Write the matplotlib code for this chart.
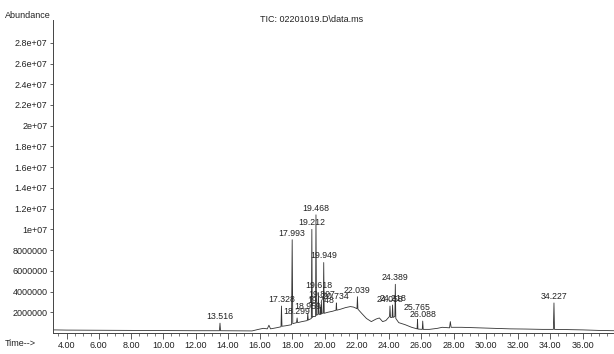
import matplotlib
matplotlib.use("Agg")
import matplotlib.pyplot as plt
from matplotlib.ticker import FixedLocator, FixedFormatter, MultipleLocator

plt.rcParams['font.family'] = ['Liberation Sans', 'DejaVu Sans']

# Chromatogram trace vertices (time in min, abundance)
trace_time = [3.2, 4.0, 8.0, 12.0, 13.48, 13.516, 13.55, 15.5, 15.9, 16.2, 16.45, 16.55, 16.65,
              17.0, 17.3, 17.328, 17.36, 17.6, 17.95, 17.993, 18.03, 18.26, 18.299, 18.33,
              18.6, 18.93, 18.959, 18.99, 19.18, 19.212, 19.24, 19.3, 19.44, 19.468, 19.5,
              19.59, 19.618, 19.65, 19.72, 19.748, 19.775, 19.807, 19.84, 19.92, 19.949, 19.98,
              20.2, 20.5, 20.71, 20.734, 20.76, 21.0, 21.3, 21.6, 21.8, 22.01, 22.039, 22.07,
              22.3, 22.6, 22.9, 23.2, 23.4, 23.6, 23.8, 24.03, 24.058, 24.09, 24.19, 24.218,
              24.25, 24.36, 24.389, 24.42, 24.6, 25.0, 25.4, 25.74, 25.765, 25.79, 26.06,
              26.088, 26.12, 26.5, 27.0, 27.3, 27.75, 27.8, 27.85, 28.5, 29.5, 30.5, 31.5,
              32.5, 33.5, 34.19, 34.227, 34.26, 35.0, 36.0, 37.0, 37.95]
trace_abund = [0.30e6, 0.28e6, 0.25e6, 0.22e6, 0.22e6, 0.95e6, 0.22e6, 0.20e6, 0.35e6, 0.45e6,
               0.40e6, 0.75e6, 0.40e6, 0.50e6, 0.60e6, 2.6e6, 0.65e6, 0.70e6, 0.80e6, 9.0e6,
               0.90e6, 1.0e6, 1.45e6, 1.0e6, 1.1e6, 1.2e6, 1.9e6, 1.25e6, 1.4e6, 10.0e6, 1.5e6,
               1.6e6, 1.6e6, 11.4e6, 1.7e6, 1.8e6, 3.9e6, 1.8e6, 1.8e6, 2.5e6, 1.8e6, 2.9e6,
               1.9e6, 1.9e6, 6.8e6, 1.9e6, 2.0e6, 2.1e6, 2.2e6, 2.9e6, 2.2e6, 2.3e6, 2.45e6,
               2.55e6, 2.5e6, 2.35e6, 3.5e6, 2.3e6, 1.9e6, 1.4e6, 1.1e6, 1.35e6, 1.45e6, 1.1e6,
               1.2e6, 1.6e6, 2.6e6, 1.5e6, 1.5e6, 2.7e6, 1.5e6, 1.6e6, 4.7e6, 1.4e6, 1.0e6,
               0.80e6, 0.55e6, 0.40e6, 1.3e6, 0.38e6, 0.35e6, 1.15e6, 0.35e6, 0.35e6, 0.45e6,
               0.55e6, 0.50e6, 1.1e6, 0.55e6, 0.55e6, 0.50e6, 0.45e6, 0.40e6, 0.38e6, 0.35e6,
               0.35e6, 2.9e6, 0.35e6, 0.33e6, 0.30e6, 0.25e6, 0.22e6]

# Labelled peaks
peak_labels = ['13.516', '17.328', '17.993', '18.299', '18.959', '19.212', '19.468', '19.618',
               '19.748', '19.807', '19.949', '20.734', '22.039', '24.058', '24.218', '24.389',
               '25.765', '26.088', '34.227']
peak_time = [13.516, 17.328, 17.993, 18.299, 18.959, 19.212, 19.468, 19.618, 19.748, 19.807,
             19.949, 20.734, 22.039, 24.058, 24.218, 24.389, 25.765, 26.088, 34.227]
peak_abund = [0.95e6, 2.6e6, 9.0e6, 1.45e6, 1.9e6, 10.0e6, 11.4e6, 3.9e6, 2.5e6, 2.9e6,
              6.8e6, 2.9e6, 3.5e6, 2.6e6, 2.7e6, 4.7e6, 1.3e6, 1.15e6, 2.9e6]

x_ticks = [4, 6, 8, 10, 12, 14, 16, 18, 20, 22, 24, 26, 28, 30, 32, 34, 36]
x_tick_labels = ['4.00', '6.00', '8.00', '10.00', '12.00', '14.00', '16.00', '18.00', '20.00',
                 '22.00', '24.00', '26.00', '28.00', '30.00', '32.00', '34.00', '36.00']
y_ticks = [2e6, 4e6, 6e6, 8e6, 1e7, 1.2e7, 1.4e7, 1.6e7, 1.8e7, 2e7, 2.2e7, 2.4e7, 2.6e7, 2.8e7]
y_tick_labels = ['2000000', '4000000', '6000000', '8000000', '1e+07', '1.2e+07', '1.4e+07',
                 '1.6e+07', '1.8e+07', '2e+07', '2.2e+07', '2.4e+07', '2.6e+07', '2.8e+07']

fig = plt.figure(figsize=(6.14, 3.54), dpi=100)
ax = fig.add_axes([53 / 614, 21 / 354, 561 / 614, 313 / 354])

ax.plot(trace_time, trace_abund, color='#333333', lw=0.6)

# small vertical nudges (points) where the instrument stacked crowded labels
label_nudge = {'25.765': 4.0, '19.807': 1.5}
for lab, t, h in zip(peak_labels, peak_time, peak_abund):
    ax.annotate(lab, (t, h), xytext=(0, 1.5 + label_nudge.get(lab, 0.0)),
                textcoords='offset points',
                ha='center', va='bottom', fontsize=6.3, color='#222222')

ax.set_xlim(3.16, 37.95)
ax.set_ylim(0, 3.02e7)

ax.xaxis.set_major_locator(FixedLocator(x_ticks))
ax.xaxis.set_major_formatter(FixedFormatter(x_tick_labels))
ax.xaxis.set_minor_locator(MultipleLocator(0.5))
ax.yaxis.set_major_locator(FixedLocator(y_ticks))
ax.yaxis.set_major_formatter(FixedFormatter(y_tick_labels))

for s in ['top', 'right']:
    ax.spines[s].set_visible(False)
for s in ['left', 'bottom']:
    ax.spines[s].set_color('#444444')
    ax.spines[s].set_linewidth(0.7)

ax.tick_params(axis='x', which='major', length=4, width=0.6, colors='#444444',
               labelsize=6.5, labelcolor='#222222', pad=1.5)
ax.tick_params(axis='x', which='minor', length=2, width=0.5, colors='#444444')
ax.tick_params(axis='y', which='major', length=2.5, width=0.6, colors='#444444',
               labelsize=6.5, labelcolor='#222222', pad=1.5)

fig.text(5 / 614, 1 - 16 / 354, 'Abundance', fontsize=6.5, color='#222222', va='center', ha='left')
fig.text(5 / 614, 1 - 344 / 354, 'Time-->', fontsize=6.5, color='#222222', va='center', ha='left')
fig.text(312 / 614, 1 - 20 / 354, 'TIC: 02201019.D\\data.ms', fontsize=6.5, color='#222222',
         va='center', ha='center')

fig.savefig('out.png', dpi=100)
